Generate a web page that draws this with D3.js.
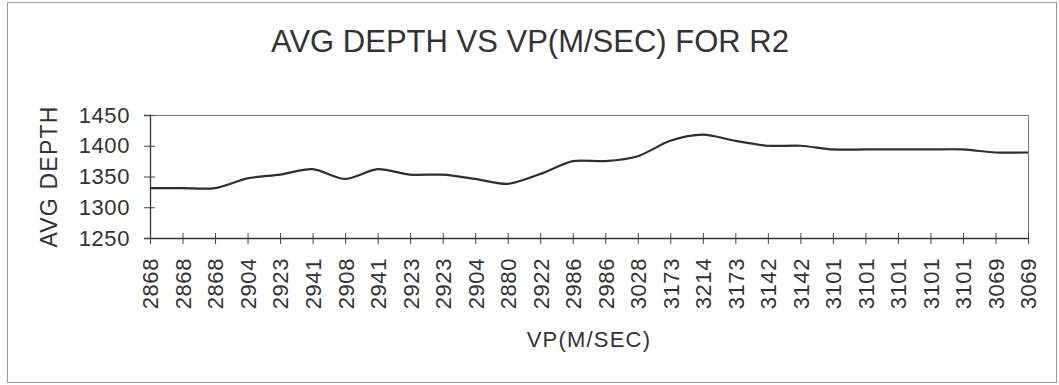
<!DOCTYPE html>
<html>
<head>
<meta charset="utf-8">
<script src="https://cdn.jsdelivr.net/npm/d3@7"></script>
<style>
  html, body { margin: 0; padding: 0; background: #fff; }
  svg { display: block; }
  text { font-family: "Liberation Sans", Arial, sans-serif; fill: #333; }
</style>
</head>
<body>
<svg id="chart" width="1059" height="385"></svg>
<script>
// VP (m/sec) readings along the section, one per sample
const categories = ["2868", "2868", "2868", "2904", "2923", "2941", "2908", "2941", "2923", "2923",
  "2904", "2880", "2922", "2986", "2986", "3028", "3173", "3214", "3173", "3142",
  "3142", "3101", "3101", "3101", "3101", "3101", "3069", "3069"];
// Average depth for each sample
const avgDepth = [1331, 1331, 1331, 1347, 1353, 1362, 1346, 1362, 1353, 1353,
  1346, 1338, 1354, 1375, 1375, 1383, 1408, 1418, 1408, 1400,
  1400, 1394, 1394, 1394, 1394, 1394, 1389, 1389];
const yTicks = [1250, 1300, 1350, 1400, 1450];

const titleText = "AVG DEPTH VS VP(M/SEC) FOR R2";
const xTitle = "VP(M/SEC)";
const yTitle = "AVG DEPTH";

const svg = d3.select("#chart");
const plot = { left: 150, right: 1028, top: 115, bottom: 238 };

// outer chart frame
svg.append("rect")
  .attr("x", 7.5).attr("y", 2.5)
  .attr("width", 1049).attr("height", 380)
  .attr("fill", "none").attr("stroke", "#9a9a9a").attr("stroke-width", 1);

const x = d3.scalePoint()
  .domain(d3.range(categories.length))
  .range([plot.left, plot.right]);

const y = d3.scaleLinear()
  .domain([1250, 1450])
  .range([plot.bottom, plot.top]);

// plot-area border (top and right)
svg.append("path")
  .attr("d", `M${plot.left},${plot.top + 0.5}H${plot.right + 0.5}V${plot.bottom}`)
  .attr("fill", "none").attr("stroke", "#777").attr("stroke-width", 1);

// y axis
const yAxis = svg.append("g")
  .attr("transform", `translate(${plot.left},0)`)
  .call(d3.axisLeft(y).tickValues(yTicks).tickFormat(d3.format("d")).tickSize(6).tickPadding(14))
  .call(g => g.select(".domain").attr("stroke", "#333").attr("stroke-width", 1.3));
yAxis.selectAll(".tick line").attr("x1", 5).attr("stroke", "#444");
yAxis.selectAll(".tick text")
  .style("font-size", "22px")
  .style("letter-spacing", "0.6px")
  .attr("fill", "#333");

// x axis
const xAxis = svg.append("g")
  .attr("transform", `translate(0,${plot.bottom})`)
  .call(d3.axisBottom(x).tickFormat(i => categories[i]).tickSize(6).tickSizeOuter(0))
  .call(g => g.select(".domain").attr("stroke", "#333").attr("stroke-width", 1.3));
xAxis.selectAll(".tick line").attr("y1", -5).attr("stroke", "#444");
xAxis.selectAll(".tick text")
  .style("font-size", "22px")
  .style("letter-spacing", "0.6px")
  .attr("fill", "#333")
  .attr("text-anchor", "end")
  .attr("transform", "rotate(-90)")
  .attr("x", -20)
  .attr("y", 0)
  .attr("dy", "0.36em");

// depth curve
const line = d3.line()
  .x((d, i) => x(i))
  .y(d => y(d))
  .curve(d3.curveCardinal.tension(0.2));

svg.append("path")
  .datum(avgDepth)
  .attr("d", line)
  .attr("fill", "none")
  .attr("stroke", "#2e2e2e")
  .attr("stroke-width", 2.2)
  .attr("stroke-linejoin", "round");

// titles
svg.append("text")
  .attr("x", 530).attr("y", 52)
  .attr("text-anchor", "middle")
  .style("font-size", "31px")
  .text(titleText);

svg.append("text")
  .attr("x", (plot.left + plot.right) / 2).attr("y", 347)
  .attr("text-anchor", "middle")
  .style("font-size", "22px")
  .style("letter-spacing", "1.2px")
  .text(xTitle);

svg.append("text")
  .attr("transform", `translate(57,${(plot.top + plot.bottom) / 2}) rotate(-90)`)
  .attr("text-anchor", "middle")
  .style("font-size", "23px")
  .style("letter-spacing", "1.2px")
  .text(yTitle);
</script>
</body>
</html>
